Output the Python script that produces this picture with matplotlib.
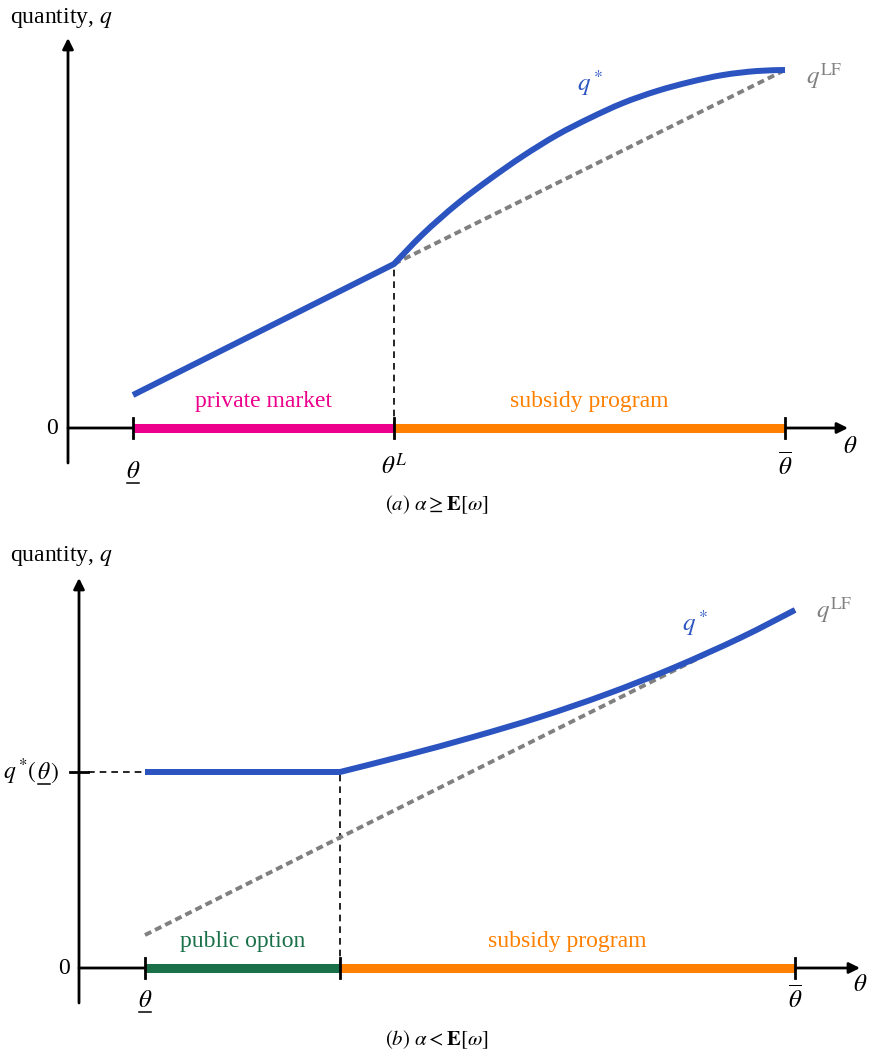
import matplotlib.pyplot as plt
from matplotlib.path import Path
from matplotlib.patches import PathPatch

# -------------------------------
# Data (theta on x, quantity q on y)
# -------------------------------
# panel (a): alpha >= E[omega]
theta_lo_a, theta_L_a, theta_hi_a = 0.65, 3.26, 7.17
q_theta_a = [0.65, 3.26, 3.55, 3.89, 4.22, 4.55, 4.89, 5.22, 5.55, 5.89, 6.22, 6.55, 6.89, 7.17]
q_star_a = [0.33, 1.64, 1.94, 2.24, 2.49, 2.72, 2.93, 3.10, 3.25, 3.37, 3.46, 3.53, 3.57, 3.58]
lf_theta_a = [3.26, 7.17]
lf_q_a = [1.64, 3.58]
segments_a = ["private market", "subsidy program"]

# panel (b): alpha < E[omega]
theta_lo_b, theta_k_b, theta_hi_b = 0.66, 2.61, 7.16
q_theta_b = [0.66, 2.61, 3.28, 3.94, 4.61, 5.28, 5.94, 6.61, 7.16]
q_star_b = [1.96, 1.96, 2.13, 2.31, 2.51, 2.74, 3.00, 3.30, 3.58]
lf_theta_b = [0.66, 7.16]
lf_q_b = [0.33, 3.58]
segments_b = ["public option", "subsidy program"]

# -------------------------------
# Style
# -------------------------------
plt.rcParams["font.family"] = ["Liberation Serif", "DejaVu Serif"]
plt.rcParams["mathtext.fontset"] = "stix"

BLUE = "#2b54c0"
GRAY = "#808080"
MAGENTA = "#ec008c"
ORANGE = "#ff8000"
GREEN = "#1a7048"
FS = 17     # words
MFS = 18    # math symbols
DASH = (0, (4, 3))

fig = plt.figure(figsize=(8.73, 10.57), dpi=100)
ax_a = fig.add_axes([0, 529 / 1057, 1, 528 / 1057])
ax_b = fig.add_axes([0, 0, 1, 529 / 1057])
ax_a.set_xlim(-0.68, 8.05)
ax_a.set_ylim(-1.00, 4.28)
ax_b.set_xlim(-0.79, 7.94)
ax_b.set_ylim(-0.89, 4.40)
for ax in (ax_a, ax_b):
    ax.axis("off")


def draw_axes(ax, x_end, y_top):
    arrow = dict(arrowstyle="-|>", lw=2, color="black", mutation_scale=16,
                 shrinkA=0, shrinkB=0)
    ax.annotate("", xy=(0, y_top), xytext=(0, -0.35), arrowprops=arrow)
    ax.annotate("", xy=(x_end, 0), xytext=(0, 0), arrowprops=arrow)


def tick(ax, x):
    ax.plot([x, x], [-0.1, 0.1], color="black", lw=2, zorder=5)


def under_theta(ax, x, base, size=MFS):
    # theta with a bar underneath (lower bound)
    ax.text(x, base, r"$\theta$", fontsize=size, ha="center", va="baseline")
    ax.plot([x - 0.06, x + 0.06], [base - 0.05, base - 0.05], color="black", lw=1.1)


def q_star_curve(ax, xs, ys):
    # straight piece up to the kink (index 1), then a smooth curve through the
    # remaining read points (Catmull-Rom drawn as cubic Bezier segments)
    pts = list(zip(xs, ys))
    verts = [pts[0], pts[1]]
    codes = [Path.MOVETO, Path.LINETO]
    cp = pts[1:]
    n = len(cp)
    for i in range(n - 1):
        p0 = cp[max(i - 1, 0)]
        p1, p2 = cp[i], cp[i + 1]
        p3 = cp[min(i + 2, n - 1)]
        c1 = (p1[0] + (p2[0] - p0[0]) / 6, p1[1] + (p2[1] - p0[1]) / 6)
        c2 = (p2[0] - (p3[0] - p1[0]) / 6, p2[1] - (p3[1] - p1[1]) / 6)
        verts += [c1, c2, p2]
        codes += [Path.CURVE4] * 3
    ax.add_patch(PathPatch(Path(verts, codes), fill=False, edgecolor=BLUE,
                           lw=4.3, capstyle="butt", joinstyle="round", zorder=4))


# -------------------------------
# Panel (a)
# -------------------------------
ax = ax_a
draw_axes(ax, 7.80, 3.90)
ax.plot([theta_lo_a, theta_L_a], [0, 0], color=MAGENTA, lw=6.5, solid_capstyle="butt", zorder=3)
ax.plot([theta_L_a, theta_hi_a], [0, 0], color=ORANGE, lw=6.5, solid_capstyle="butt", zorder=3)
for x in (theta_lo_a, theta_L_a, theta_hi_a):
    tick(ax, x)
ax.plot([theta_L_a, theta_L_a], [0, q_star_a[1]], color="black", lw=1.2, ls=DASH)
ax.plot(lf_theta_a, lf_q_a, color=GRAY, lw=2.8, ls=(0, (1.8, 1.1)), zorder=2)
q_star_curve(ax, q_theta_a, q_star_a)

ax.text(-0.58, 4.10, r"quantity, $q$", fontsize=FS, ha="left", va="center")
ax.text(-0.10, 0, "0", fontsize=FS, ha="right", va="center")
under_theta(ax, theta_lo_a, -0.50)
ax.text(theta_L_a, -0.38, r"$\theta^L$", fontsize=MFS, ha="center", va="center")
ax.text(theta_hi_a, -0.38, r"$\overline{\theta}$", fontsize=MFS, ha="center", va="center")
ax.text(7.82, -0.19, r"$\theta$", fontsize=MFS, ha="center", va="center")
ax.text((theta_lo_a + theta_L_a) / 2, 0.26, segments_a[0], color=MAGENTA, fontsize=FS, ha="center", va="center")
ax.text((theta_L_a + theta_hi_a) / 2, 0.26, segments_a[1], color=ORANGE, fontsize=FS, ha="center", va="center")
ax.text(5.22, 3.45, r"$q^*$", color=BLUE, fontsize=MFS, ha="center", va="center")
ax.text(7.38, 3.52, r"$q^{\mathrm{LF}}$", color=GRAY, fontsize=MFS, ha="left", va="center")
ax.text(3.69, -0.77, r"$\mathit{(a)}\ \alpha \geq \mathbf{E}[\omega]$", fontsize=15, ha="center", va="center")

# -------------------------------
# Panel (b)
# -------------------------------
ax = ax_b
draw_axes(ax, 7.81, 3.90)
ax.plot([theta_lo_b, theta_k_b], [0, 0], color=GREEN, lw=6.5, solid_capstyle="butt", zorder=3)
ax.plot([theta_k_b, theta_hi_b], [0, 0], color=ORANGE, lw=6.5, solid_capstyle="butt", zorder=3)
for x in (theta_lo_b, theta_k_b, theta_hi_b):
    tick(ax, x)
ax.plot([theta_k_b, theta_k_b], [0, q_star_b[1]], color="black", lw=1.2, ls=DASH)
ax.plot([-0.09, 0.09], [q_star_b[0], q_star_b[0]], color="black", lw=2)
ax.plot([0.09, theta_lo_b], [q_star_b[0], q_star_b[0]], color="black", lw=1.2, ls=DASH)
ax.plot(lf_theta_b, lf_q_b, color=GRAY, lw=2.8, ls=(0, (1.8, 1.1)), zorder=2)
q_star_curve(ax, q_theta_b, q_star_b)

ax.text(-0.69, 4.12, r"quantity, $q$", fontsize=FS, ha="left", va="center")
ax.text(-0.09, 0, "0", fontsize=FS, ha="right", va="center")
# q*(theta_lower) label, built in pieces so theta can be underlined
base = q_star_b[0] - 0.07
ax.text(-0.425, base, r"$q^*\!($", fontsize=MFS - 1, ha="right", va="baseline")
under_theta(ax, -0.355, base, MFS - 1)
ax.text(-0.29, base, r"$)$", fontsize=MFS - 1, ha="left", va="baseline")
under_theta(ax, theta_lo_b, -0.39)
ax.text(theta_hi_b, -0.31, r"$\overline{\theta}$", fontsize=MFS, ha="center", va="center")
ax.text(7.81, -0.17, r"$\theta$", fontsize=MFS, ha="center", va="center")
ax.text((theta_lo_b + theta_k_b) / 2, 0.26, segments_b[0], color=GREEN, fontsize=FS, ha="center", va="center")
ax.text((theta_k_b + theta_hi_b) / 2, 0.26, segments_b[1], color=ORANGE, fontsize=FS, ha="center", va="center")
ax.text(6.16, 3.45, r"$q^*$", color=BLUE, fontsize=MFS, ha="center", va="center")
ax.text(7.37, 3.58, r"$q^{\mathrm{LF}}$", color=GRAY, fontsize=MFS, ha="left", va="center")
ax.text(3.58, -0.72, r"$\mathit{(b)}\ \alpha < \mathbf{E}[\omega]$", fontsize=15, ha="center", va="center")

fig.savefig("out.png", dpi=100)
plt.close(fig)
